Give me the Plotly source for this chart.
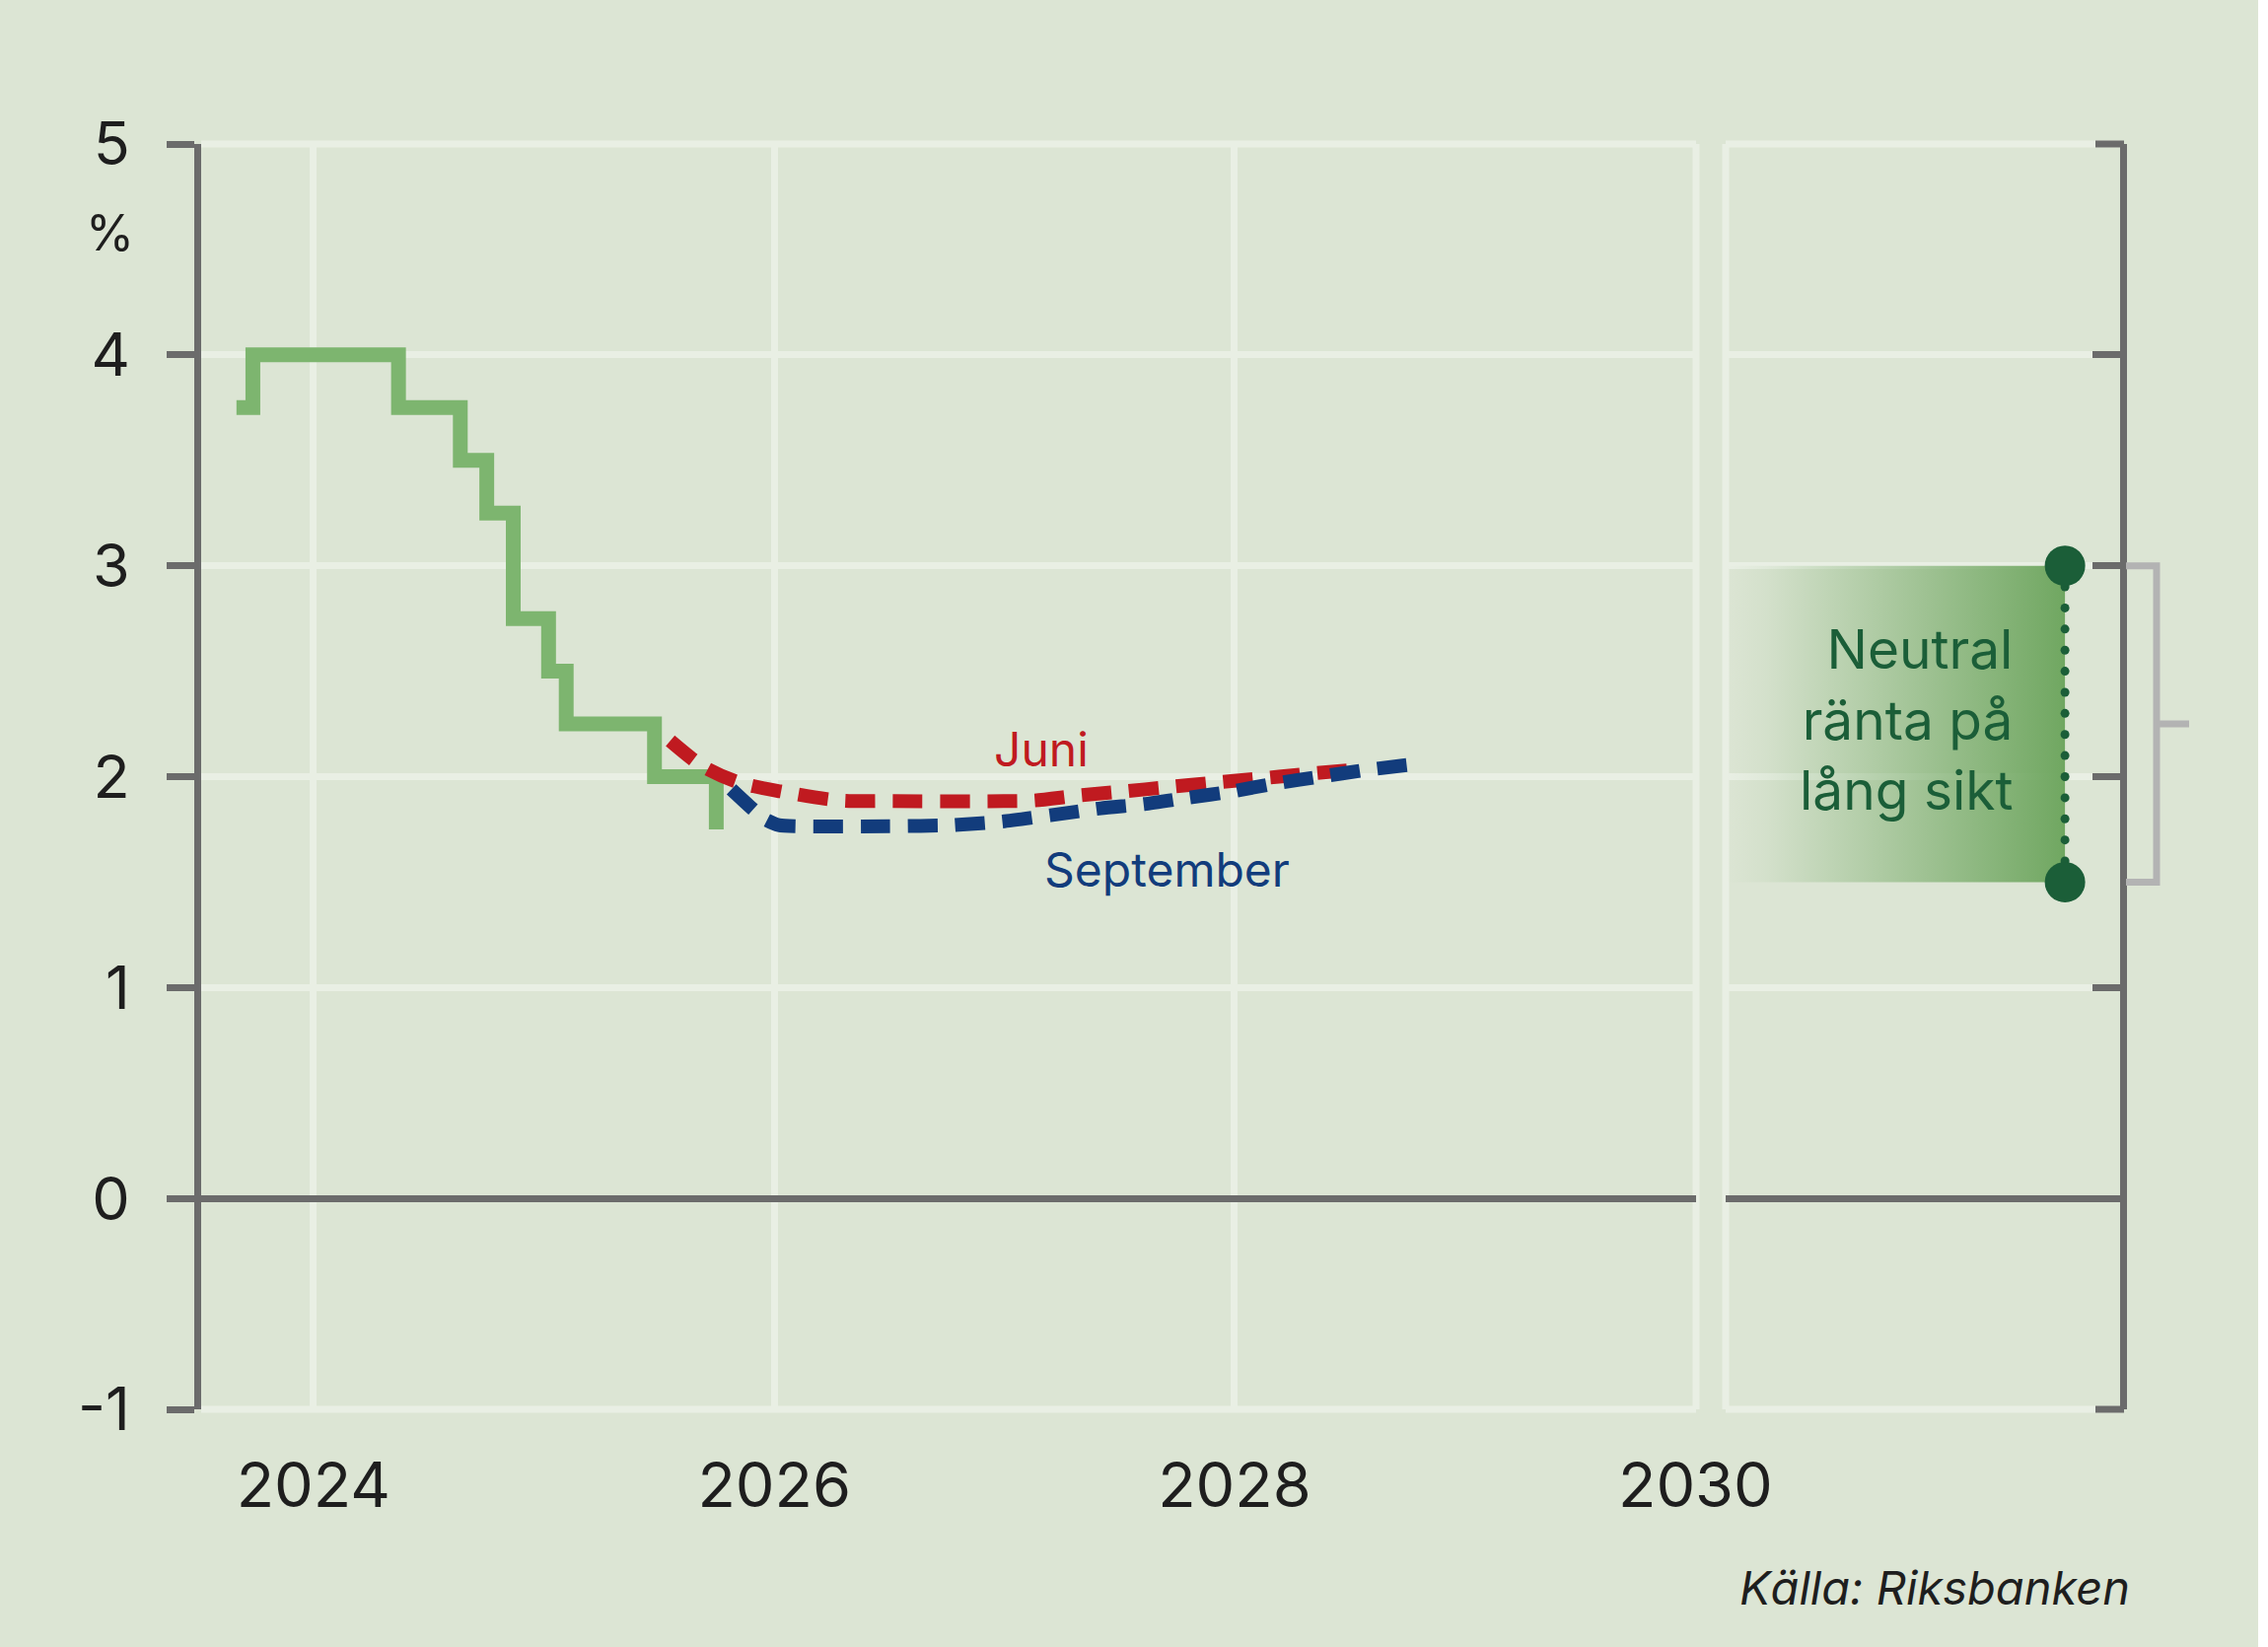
import numpy as np
import plotly.graph_objects as go

# ---------------- data ----------------
policy_dates = ["2023-09-01", "2023-09-27", "2024-05-15", "2024-08-21", "2024-10-02",
                "2024-11-13", "2025-01-08", "2025-02-05", "2025-06-25", "2025-10-01"]
policy_rate = [3.75, 4.00, 3.75, 3.50, 3.25, 2.75, 2.50, 2.25, 2.00, 1.75]

juni_dates = ["2025-07-20", "2025-09-09", "2025-11-03", "2026-01-11", "2026-04-14",
              "2026-07-02", "2027-01-01", "2027-02-17", "2027-04-27", "2027-07-09",
              "2027-09-16", "2027-11-24", "2028-02-06", "2028-04-15", "2028-06-28"]
juni_rate = [2.17, 2.05, 1.975, 1.93, 1.887, 1.884, 1.884, 1.887, 1.91, 1.93,
             1.95, 1.97, 1.99, 2.01, 2.03]

sept_dates = ["2025-10-25", "2025-12-16", "2026-01-08", "2026-07-02", "2026-10-12",
              "2026-12-28", "2027-03-15", "2027-06-03", "2027-08-11", "2027-10-19",
              "2027-12-28", "2028-03-10", "2028-05-17", "2028-07-23", "2028-10-01"]
sept_rate = [1.94, 1.80, 1.77, 1.765, 1.77, 1.787, 1.817, 1.85, 1.87, 1.90,
             1.93, 1.97, 2.00, 2.03, 2.055]

neutral_low = 1.5
neutral_high = 3.0

y_ticks = [-1, 0, 1, 2, 3, 4, 5]
y_labels = ["-1", "0", "1", "2", "3", "4", "5"]
x_tick_dates = ["2024-01-01", "2026-01-01", "2028-01-01", "2030-01-01"]
x_tick_labels = ["2024", "2026", "2028", "2030"]

# ---------------- style ----------------
BG = "#dce5d4"
GRID = "#e9efe4"
AXIS = "#6b6b6b"
GREEN = "#7db56f"
RED = "#c01a20"
BLUE = "#123c7c"
DKGREEN = "#1b5e38"
BRACKET = "#b3b3b3"
TXT = "#1e1e1e"
FONT = "Inter, Roboto, sans-serif"

W, H = 2290, 1670
ML, MR, MT, MB = 204, 140, 146, 241
PW = W - ML - MR


def px(xpix):
    return (xpix - ML) / PW


fig = go.Figure()

fig.add_trace(go.Scatter(x=policy_dates, y=policy_rate, mode="lines",
                         line=dict(color=GREEN, width=15, shape="hv"),
                         xaxis="x", yaxis="y", showlegend=False, hoverinfo="skip"))
fig.add_trace(go.Scatter(x=juni_dates, y=juni_rate, mode="lines",
                         line=dict(color=RED, width=14, dash="30px,18px", shape="spline", smoothing=0.8),
                         xaxis="x", yaxis="y", showlegend=False, hoverinfo="skip"))
fig.add_trace(go.Scatter(x=sept_dates, y=sept_rate, mode="lines",
                         line=dict(color=BLUE, width=14, dash="30px,18px", shape="spline", smoothing=0.5),
                         xaxis="x", yaxis="y", showlegend=False, hoverinfo="skip"))

# right panel: neutral rate range
XD = 0.86
fig.add_trace(go.Scatter(x=[0, XD, XD, 0, 0],
                         y=[neutral_low, neutral_low, neutral_high, neutral_high, neutral_low],
                         mode="lines", fill="toself", line=dict(width=0),
                         fillgradient=dict(type="horizontal",
                                           colorscale=[[0, "rgba(112,167,97,0)"],
                                                       [0.12, "rgba(112,167,97,0.08)"],
                                                       [1, "rgba(112,167,97,1)"]]),
                         xaxis="x2", yaxis="y2", showlegend=False, hoverinfo="skip"))
dots_y = np.linspace(neutral_low, neutral_high, 16)
fig.add_trace(go.Scatter(x=[XD] * len(dots_y), y=dots_y, mode="markers",
                         marker=dict(color=DKGREEN, size=9),
                         xaxis="x2", yaxis="y2", showlegend=False, hoverinfo="skip"))
fig.add_trace(go.Scatter(x=[XD, XD], y=[neutral_low, neutral_high], mode="markers",
                         marker=dict(color=DKGREEN, size=41),
                         xaxis="x2", yaxis="y2", showlegend=False, hoverinfo="skip"))

main_dom = [0, px(1720)]
right_dom = [px(1750), 1]

fig.update_layout(
    width=W, height=H,
    margin=dict(l=ML, r=MR, t=MT, b=MB, pad=0),
    paper_bgcolor=BG, plot_bgcolor=BG,
    font=dict(family=FONT, color=TXT),
    xaxis=dict(domain=main_dom, type="date", range=["2023-07-07", "2030-01-02"],
               tickvals=x_tick_dates, ticktext=x_tick_labels, ticks="",
               showgrid=True, gridcolor=GRID, gridwidth=7, showline=False, zeroline=False,
               tickfont=dict(size=63, color=TXT, family=FONT), ticklabelstandoff=35),
    yaxis=dict(range=[-1, 5], tickvals=y_ticks, ticktext=y_labels, ticks="outside",
               ticklen=28, tickwidth=7, tickcolor=AXIS, showline=True, linewidth=7,
               linecolor=AXIS, showgrid=True, gridcolor=GRID, gridwidth=7,
               zeroline=True, zerolinecolor=AXIS, zerolinewidth=7,
               tickfont=dict(size=61, color=TXT, family=FONT), ticklabelstandoff=25),
    xaxis2=dict(domain=right_dom, range=[-0.002, 1], tickvals=[0], showticklabels=False,
                ticks="", showgrid=True, gridcolor=GRID, gridwidth=7, zeroline=False,
                showline=False, anchor="y2"),
    yaxis2=dict(range=[-1, 5], tickvals=y_ticks, showticklabels=False, anchor="x2",
                side="right", ticks="inside", ticklen=28, tickwidth=7, tickcolor=AXIS,
                showline=True, linewidth=7, linecolor=AXIS, showgrid=True, gridcolor=GRID,
                gridwidth=7, zeroline=True, zerolinecolor=AXIS, zerolinewidth=7),
)

# grid lines at the panel edges (plotly omits them)
for xr in ["x domain", "x2 domain"]:
    for yp in [0, 1]:
        fig.add_shape(type="line", xref=xr, yref="paper", x0=0, x1=1, y0=yp, y1=yp,
                      line=dict(color=GRID, width=7), layer="below")
fig.add_shape(type="line", xref="x domain", yref="paper", x0=1, x1=1, y0=0, y1=1,
              line=dict(color=GRID, width=7), layer="below")
fig.add_shape(type="line", xref="x2 domain", yref="paper", x0=0, x1=0, y0=0, y1=1,
              line=dict(color=GRID, width=7), layer="below")

# inside ticks of the right axis at the range ends (plotly omits them)
for yp in [0, 1]:
    fig.add_shape(type="line", xref="paper", yref="paper", x0=px(2125), x1=px(2154),
                  y0=yp, y1=yp, line=dict(color=AXIS, width=7))

# bracket to the right of the right axis
xa, xb, xt = px(2156), px(2187), px(2220)
mid = (neutral_low + neutral_high) / 2
fig.add_shape(type="path", xref="paper", yref="y",
              path=f"M {xa},{neutral_high} L {xb},{neutral_high} L {xb},{neutral_low} L {xa},{neutral_low}",
              line=dict(color=BRACKET, width=7))
fig.add_shape(type="line", xref="paper", yref="y", x0=xb, x1=xt, y0=mid, y1=mid,
              line=dict(color=BRACKET, width=7))

fig.add_annotation(x=0.7325, y=2.27, xref="x2", yref="y2", text="Neutral<br>ränta på<br>lång sikt",
                   showarrow=False, xanchor="right", yanchor="middle", align="right",
                   font=dict(size=55, color=DKGREEN, family=FONT))
fig.add_annotation(x="2027-03-01", y=2.13, xref="x", yref="y", text="Juni", showarrow=False,
                   font=dict(size=48, color=RED, family=FONT))
fig.add_annotation(x="2027-09-16", y=1.56, xref="x", yref="y", text="September", showarrow=False,
                   font=dict(size=48, color=BLUE, family=FONT))
fig.add_annotation(x=px(111), y=(1429 - 236) / 1283, xref="paper", yref="paper", text="%",
                   showarrow=False, xanchor="center", yanchor="middle",
                   font=dict(size=50, color=TXT, family=FONT))
fig.add_annotation(x=px(2162), y=(1429 - 1609) / 1283, xref="paper", yref="paper",
                   text="Källa: Riksbanken", showarrow=False, xanchor="right", yanchor="middle",
                   font=dict(size=47, color=TXT, family=FONT, style="italic"))

fig.write_html("out.html", config={"displayModeBar": False},
               post_script="document.body.style.margin='0';")
